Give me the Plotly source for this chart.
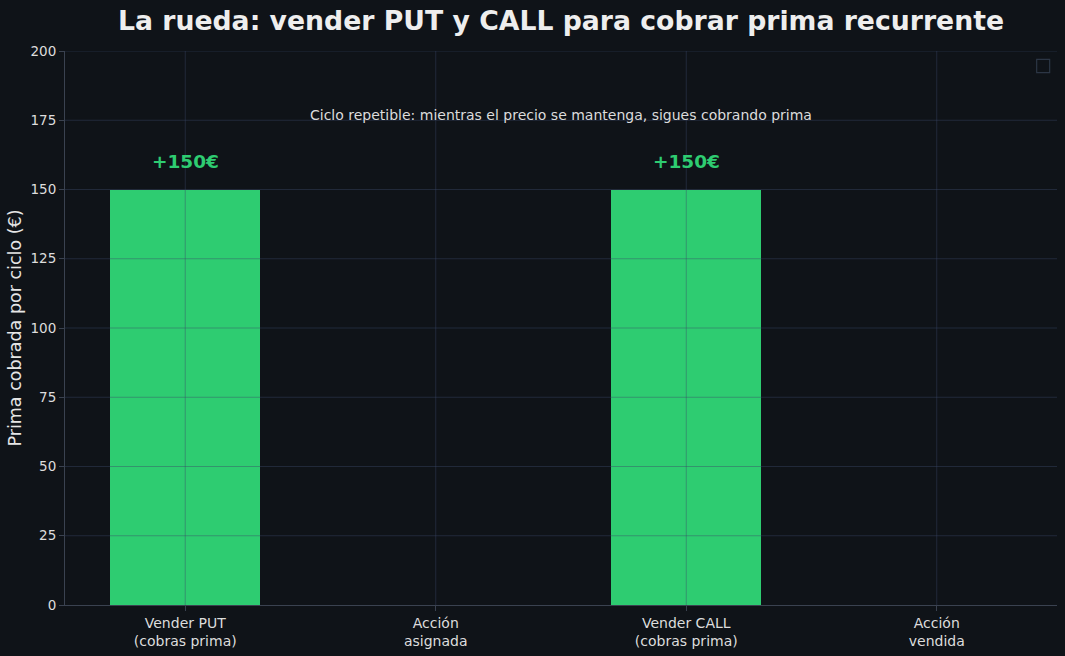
import plotly.graph_objects as go

# data
pasos = ["Vender PUT<br>(cobras prima)", "Acción<br>asignada",
         "Vender CALL<br>(cobras prima)", "Acción<br>vendida"]
prima = [150, 0, 150, 0]
etiquetas = ["+150€", "", "+150€", ""]
ticks_y = [0, 25, 50, 75, 100, 125, 150, 175, 200]

fondo = "#0f1318"
verde = "#2ecc71"
grid = "rgba(60,72,105,0.42)"

fig = go.Figure()
fig.add_trace(go.Bar(
    x=list(range(len(pasos))), y=prima, width=0.6,
    marker=dict(color=verde, line=dict(width=0)),
    showlegend=False, hoverinfo="skip",
))

# rejilla por encima de las barras (como en matplotlib)
for v in ticks_y[1:]:
    fig.add_shape(type="line", xref="x domain", yref="y", x0=0, x1=1, y0=v, y1=v,
                  line=dict(color=grid, width=1), layer="above")
for i in range(len(pasos)):
    fig.add_shape(type="line", xref="x", yref="y domain", x0=i, x1=i, y0=0, y1=1,
                  line=dict(color=grid, width=1), layer="above")

# etiquetas encima de las barras
for i, (v, t) in enumerate(zip(prima, etiquetas)):
    if t:
        fig.add_annotation(x=i, y=v + 10, text="<b>" + t + "</b>", showarrow=False,
                           font=dict(size=18.5, color=verde), yanchor="middle")

fig.add_annotation(x=0.5, xref="paper", y=176.9, yref="y",
                   text="Ciclo repetible: mientras el precio se mantenga, sigues cobrando prima",
                   showarrow=False, font=dict(size=14, color="#dcdcdc"), yanchor="middle")

# caja de leyenda vacía
fig.add_shape(type="rect", xref="paper", yref="paper",
              x0=0.9795, x1=0.9926, y0=0.961, y1=0.985,
              line=dict(color="#2c3645", width=1.2), fillcolor=fondo)

fig.update_layout(
    width=1065, height=656,
    paper_bgcolor=fondo, plot_bgcolor=fondo,
    margin=dict(l=65, r=8, t=51, b=51),
    font=dict(family="DejaVu Sans", color="#d8d8d8", size=13),
    title=dict(text="<b>La rueda: vender PUT y CALL para cobrar prima recurrente</b>",
               x=(65 + 1057) / 2 / 1065, xanchor="center", y=0.969, yanchor="middle",
               font=dict(size=26.7, color="#eeeeee")),
    bargap=0,
)
fig.update_xaxes(
    tickmode="array", tickvals=list(range(len(pasos))), ticktext=pasos,
    range=[-0.48, 3.48], showgrid=False,
    showline=True, linecolor="#3a4250", linewidth=1,
    ticks="outside", ticklen=5, tickcolor="#3a4250",
    tickfont=dict(size=14, color="#dddddd"), zeroline=False,
)
fig.update_yaxes(
    range=[0, 200], tickmode="array", tickvals=ticks_y,
    showgrid=False,
    showline=True, linecolor="#3a4250", linewidth=1,
    ticks="outside", ticklen=5, tickcolor="#3a4250",
    tickfont=dict(size=13.5, color="#dddddd"), zeroline=False,
    title=dict(text="Prima cobrada por ciclo (€)", font=dict(size=17.5, color="#e6e6e6"), standoff=4),
)

fig.write_html("out.html", config={"displayModeBar": False},
               post_script="document.body.style.margin='0';document.body.style.background='#0f1318';")
